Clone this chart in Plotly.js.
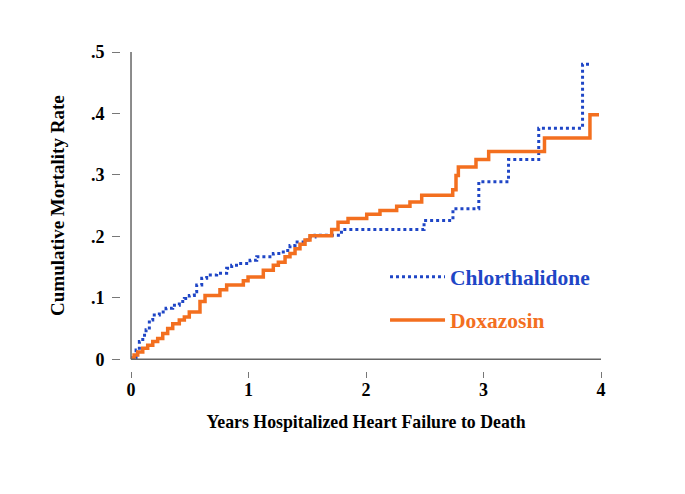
<!DOCTYPE html>
<html>
<head>
<meta charset="utf-8">
<script src="https://cdn.plot.ly/plotly-3.0.1.min.js"></script>
<style>html,body{margin:0;padding:0;background:#fff;} #chart{width:685px;height:494px;}</style>
</head>
<body>
<div id="chart"></div>
<script>
// Chlorthalidone (dotted blue) Kaplan-Meier style step curve
const chlX = [0, 0.014, 0.043, 0.071, 0.1, 0.128, 0.156, 0.185, 0.241, 0.298, 0.355, 0.411, 0.454, 0.496, 0.539, 0.559, 0.602, 0.644, 0.729, 0.814, 0.857, 0.913, 1.013, 1.07, 1.211, 1.296, 1.353, 1.396, 1.466, 1.509, 1.566, 1.791, 2.494, 2.74, 2.96, 3.213, 3.47, 3.843, 3.921];
const chlY = [0, 0.002, 0.015, 0.029, 0.039, 0.048, 0.064, 0.072, 0.077, 0.083, 0.088, 0.094, 0.099, 0.104, 0.110, 0.121, 0.132, 0.137, 0.140, 0.148, 0.153, 0.156, 0.161, 0.167, 0.172, 0.177, 0.185, 0.191, 0.194, 0.199, 0.202, 0.211, 0.226, 0.245, 0.289, 0.325, 0.376, 0.480, 0.480];
// Doxazosin (solid orange)
const doxX = [0, 0.014, 0.026, 0.057, 0.1, 0.142, 0.185, 0.227, 0.27, 0.312, 0.355, 0.411, 0.454, 0.496, 0.587, 0.63, 0.757, 0.814, 0.956, 0.996, 1.126, 1.211, 1.254, 1.311, 1.353, 1.396, 1.438, 1.481, 1.523, 1.708, 1.762, 1.847, 2.006, 2.119, 2.261, 2.374, 2.474, 2.738, 2.766, 2.786, 2.936, 3.044, 3.519, 3.906, 3.983];
const doxY = [0, 0.002, 0.007, 0.012, 0.018, 0.023, 0.029, 0.034, 0.042, 0.050, 0.058, 0.064, 0.069, 0.077, 0.094, 0.104, 0.113, 0.121, 0.128, 0.134, 0.145, 0.153, 0.158, 0.167, 0.172, 0.180, 0.187, 0.194, 0.201, 0.211, 0.223, 0.229, 0.236, 0.242, 0.249, 0.256, 0.267, 0.276, 0.299, 0.313, 0.325, 0.338, 0.360, 0.398, 0.398];

const seriesNames = ['Chlorthalidone', 'Doxazosin'];
const xTickVals = [0, 1, 2, 3, 4];
const xTickText = ['0', '1', '2', '3', '4'];
const yTickVals = [0, 0.1, 0.2, 0.3, 0.4, 0.5];
const yTickText = ['0', '.1', '.2', '.3', '.4', '.5'];

const BLUE = '#1f46c6';
const ORANGE = '#f36f1f';
const FONT = 'Liberation Serif, Times New Roman, serif';

const traces = [
  {x: chlX, y: chlY, name: seriesNames[0], type: 'scatter', mode: 'lines',
   line: {shape: 'hv', color: BLUE, width: 3, dash: 'dot'}, legend: 'legend'},
  {x: doxX, y: doxY, name: seriesNames[1], type: 'scatter', mode: 'lines',
   line: {shape: 'hv', color: ORANGE, width: 3.5}, legend: 'legend2'}
];

const layout = {
  width: 685, height: 494,
  paper_bgcolor: '#ffffff', plot_bgcolor: '#ffffff',
  margin: {l: 120, r: 84, t: 52, b: 123},
  showlegend: true,
  font: {family: FONT, color: '#000'},
  xaxis: {
    domain: [0.0229, 1], range: [0, 4], anchor: 'free', position: 0,
    showgrid: false, zeroline: false, showline: false,
    tickvals: xTickVals, ticktext: xTickText,
    ticks: 'outside', ticklen: 6, tickwidth: 1, tickcolor: '#777',
    ticklabelstandoff: -4,
    tickfont: {family: FONT, size: 18, weight: 'bold', color: '#000'},
    title: {text: 'Years Hospitalized Heart Failure to Death', standoff: 16,
            font: {family: FONT, size: 17.8, weight: 'bold', color: '#000'}}
  },
  yaxis: {
    domain: [0.0367, 1], range: [0, 0.5], anchor: 'free', position: 0,
    showgrid: false, zeroline: false, showline: false,
    tickvals: yTickVals, ticktext: yTickText,
    ticks: 'outside', ticklen: 8, tickwidth: 1, tickcolor: '#777',
    ticklabelstandoff: 4,
    tickfont: {family: FONT, size: 18, weight: 'bold', color: '#000'},
    title: {text: 'Cumulative Mortality Rate', standoff: 20,
            font: {family: FONT, size: 19, weight: 'bold', color: '#000'}}
  },
  shapes: [
    {type: 'line', xref: 'x domain', yref: 'y domain', x0: 0, x1: 1, y0: 0, y1: 0,
     line: {color: '#666', width: 1.5}},
    {type: 'line', xref: 'x domain', yref: 'y domain', x0: 0, x1: 0, y0: 0, y1: 1,
     line: {color: '#666', width: 1.5}}
  ],
  legend: {x: 0.551, y: 0.295, xanchor: 'left', yanchor: 'middle', bgcolor: 'rgba(0,0,0,0)',
           borderwidth: 0, itemwidth: 55,
           font: {family: FONT, size: 21.5, weight: 'bold', color: BLUE}},
  legend2: {x: 0.551, y: 0.16, xanchor: 'left', yanchor: 'middle', bgcolor: 'rgba(0,0,0,0)',
            borderwidth: 0, itemwidth: 55,
            font: {family: FONT, size: 21.5, weight: 'bold', color: ORANGE}}
};

Plotly.newPlot('chart', traces, layout, {displayModeBar: false, staticPlot: true});
</script>
</body>
</html>
